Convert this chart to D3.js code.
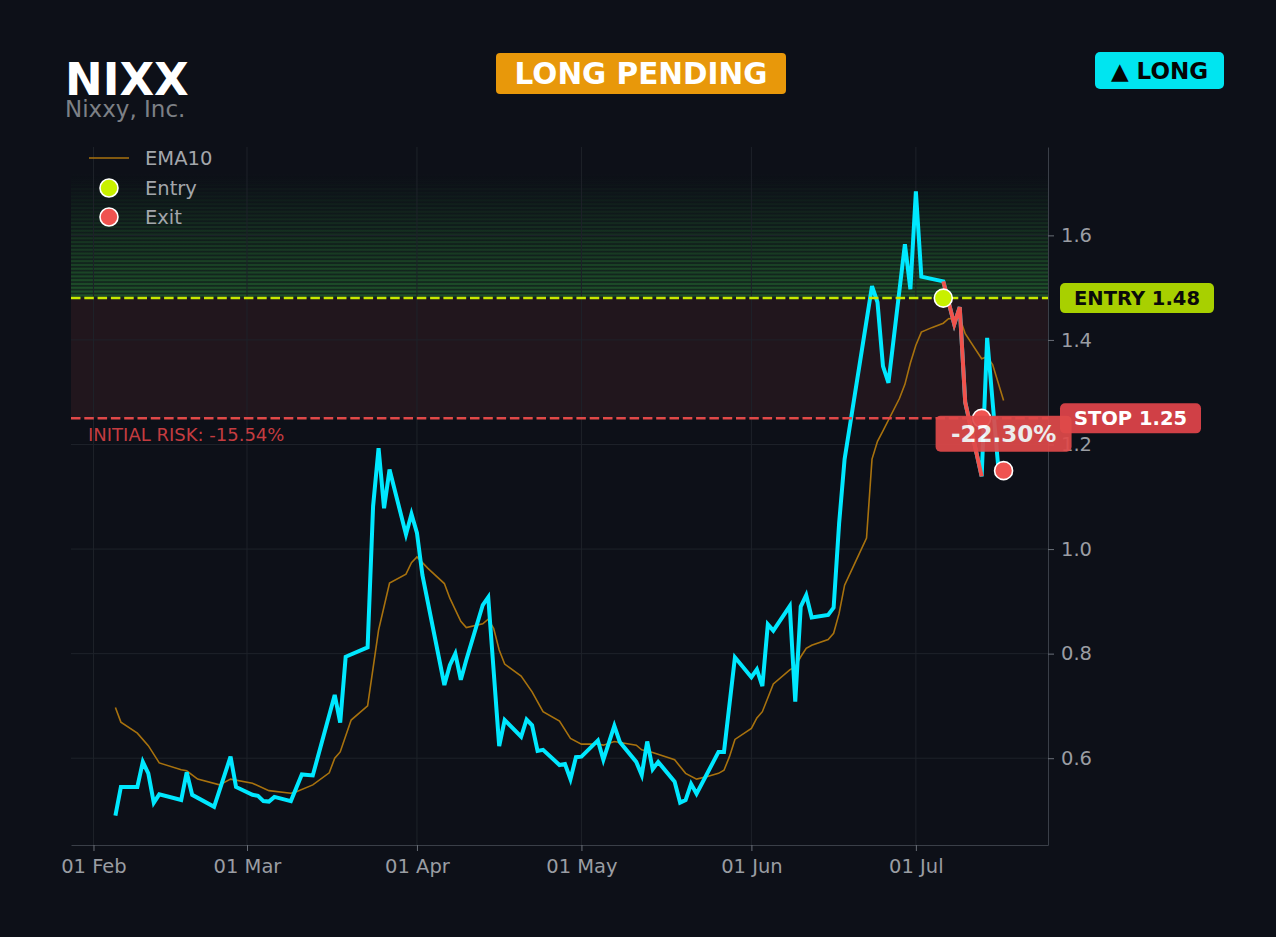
<!DOCTYPE html>
<html><head><meta charset="utf-8">
<script src="https://cdn.jsdelivr.net/npm/d3@7"></script>
<style>
html,body{margin:0;padding:0;background:#0d1018;}
svg{display:block;font-family:"DejaVu Sans",sans-serif;}
</style></head><body>
<svg id="c" width="1276" height="937"></svg>
<script>
// ---------- data ----------
const ticker = "NIXX";
const company = "Nixxy, Inc.";
const statusLabel = "LONG PENDING";
const sideLabel = "\u25B2 LONG";

const priceDates = ["2025-02-05","2025-02-06","2025-02-09","2025-02-10","2025-02-11","2025-02-12","2025-02-13","2025-02-17","2025-02-18","2025-02-19","2025-02-23","2025-02-26","2025-02-27","2025-03-02","2025-03-03","2025-03-04","2025-03-05","2025-03-06","2025-03-09","2025-03-11","2025-03-13","2025-03-17","2025-03-18","2025-03-19","2025-03-23","2025-03-24","2025-03-25","2025-03-26","2025-03-27","2025-03-30","2025-03-31","2025-04-01","2025-04-02","2025-04-06","2025-04-07","2025-04-08","2025-04-09","2025-04-10","2025-04-13","2025-04-14","2025-04-16","2025-04-17","2025-04-20","2025-04-21","2025-04-22","2025-04-23","2025-04-24","2025-04-27","2025-04-28","2025-04-29","2025-04-30","2025-05-01","2025-05-04","2025-05-05","2025-05-07","2025-05-08","2025-05-11","2025-05-12","2025-05-13","2025-05-14","2025-05-15","2025-05-18","2025-05-19","2025-05-20","2025-05-21","2025-05-22","2025-05-26","2025-05-27","2025-05-29","2025-06-01","2025-06-02","2025-06-03","2025-06-04","2025-06-05","2025-06-08","2025-06-09","2025-06-10","2025-06-11","2025-06-12","2025-06-15","2025-06-16","2025-06-17","2025-06-18","2025-06-23","2025-06-24","2025-06-25","2025-06-26","2025-06-29","2025-06-30","2025-07-01","2025-07-02","2025-07-06","2025-07-08","2025-07-09","2025-07-10","2025-07-13","2025-07-14","2025-07-15","2025-07-16","2025-07-17"];
const priceClose = [0.49,0.545,0.545,0.593,0.571,0.515,0.531,0.52,0.573,0.53,0.507,0.603,0.545,0.53,0.528,0.518,0.517,0.526,0.518,0.569,0.567,0.721,0.668,0.794,0.812,1.082,1.193,1.078,1.152,1.028,1.067,1.031,0.95,0.74,0.778,0.80,0.75,0.788,0.893,0.908,0.623,0.673,0.641,0.674,0.663,0.614,0.616,0.587,0.589,0.56,0.602,0.603,0.634,0.597,0.662,0.631,0.593,0.568,0.632,0.579,0.593,0.555,0.515,0.52,0.551,0.532,0.612,0.612,0.793,0.755,0.77,0.738,0.856,0.844,0.891,0.708,0.89,0.912,0.869,0.874,0.888,1.049,1.172,1.503,1.472,1.35,1.318,1.583,1.497,1.684,1.521,1.512,1.43,1.463,1.281,1.139,1.404,1.281,1.16,1.15];

const emaDates = ["2025-02-05","2025-02-06","2025-02-09","2025-02-11","2025-02-13","2025-02-17","2025-02-18","2025-02-20","2025-02-24","2025-02-26","2025-03-02","2025-03-05","2025-03-09","2025-03-10","2025-03-13","2025-03-16","2025-03-17","2025-03-18","2025-03-20","2025-03-23","2025-03-25","2025-03-27","2025-03-30","2025-03-31","2025-04-01","2025-04-03","2025-04-06","2025-04-07","2025-04-09","2025-04-10","2025-04-13","2025-04-14","2025-04-15","2025-04-16","2025-04-17","2025-04-20","2025-04-22","2025-04-24","2025-04-27","2025-04-29","2025-05-01","2025-05-04","2025-05-05","2025-05-07","2025-05-11","2025-05-12","2025-05-14","2025-05-18","2025-05-20","2025-05-22","2025-05-24","2025-05-26","2025-05-27","2025-05-28","2025-05-29","2025-06-01","2025-06-02","2025-06-03","2025-06-05","2025-06-08","2025-06-09","2025-06-10","2025-06-11","2025-06-12","2025-06-15","2025-06-16","2025-06-17","2025-06-18","2025-06-20","2025-06-22","2025-06-23","2025-06-24","2025-06-25","2025-06-28","2025-06-29","2025-06-30","2025-07-01","2025-07-02","2025-07-04","2025-07-06","2025-07-07","2025-07-08","2025-07-09","2025-07-10","2025-07-13","2025-07-14","2025-07-15","2025-07-17"];
const emaValues = [0.697,0.669,0.648,0.624,0.591,0.578,0.576,0.56,0.549,0.56,0.552,0.538,0.533,0.536,0.549,0.572,0.60,0.612,0.673,0.70,0.845,0.935,0.952,0.974,0.985,0.963,0.934,0.906,0.862,0.85,0.857,0.866,0.848,0.807,0.78,0.757,0.727,0.689,0.671,0.638,0.627,0.627,0.625,0.632,0.625,0.616,0.611,0.597,0.571,0.56,0.565,0.571,0.577,0.603,0.636,0.657,0.677,0.689,0.742,0.769,0.775,0.794,0.81,0.816,0.827,0.839,0.877,0.931,0.976,1.021,1.172,1.206,1.226,1.288,1.315,1.356,1.39,1.415,1.424,1.432,1.441,1.439,1.443,1.412,1.364,1.368,1.353,1.284];

const entryDate = "2025-07-06";
const entryPrice = 1.48;
const stopPrice = 1.25;
const exitDate = "2025-07-13";
const exitPrice = 1.25;
const lastDate = "2025-07-17";
const lastPrice = 1.15;
const initialRiskPct = -15.54;
const returnPct = -22.30;
const yTickValues = [0.6, 0.8, 1.0, 1.2, 1.4, 1.6];
const yDomain = [0.434, 1.769];
const greenTop = 1.72;
const legendLabels = ["EMA10", "Entry", "Exit"];

// ---------- setup ----------
const W = 1276, H = 937;
const m = {l: 71, t: 147, r: 228, b: 92};
const iw = W - m.l - m.r, ih = H - m.t - m.b;
const parse = d3.timeParse("%Y-%m-%d");
const price = priceDates.map((d, i) => ({date: parse(d), v: priceClose[i]}));
const ema = emaDates.map((d, i) => ({date: parse(d), v: emaValues[i]}));
const eD = parse(entryDate), xD = parse(exitDate), lD = parse(lastDate);

const ext = d3.extent(price, d => d.date);
const pad = (ext[1] - ext[0]) * 0.05;
const x = d3.scaleTime().domain([new Date(+ext[0] - pad), new Date(+ext[1] + pad)]).range([0, iw]);
const y = d3.scaleLinear().domain(yDomain).range([ih, 0]);

const svg = d3.select("#c");
svg.append("rect").attr("width", W).attr("height", H).attr("fill", "#0d1018");
const g = svg.append("g").attr("transform", `translate(${m.l},${m.t})`);

// risk zone
g.append("rect").attr("x", 0).attr("width", iw)
  .attr("y", y(entryPrice)).attr("height", y(stopPrice) - y(entryPrice))
  .attr("fill", "#21161d");

// green target zone (striped gradient)
const gTopPx = y(greenTop), gBotPx = y(entryPrice);
const defs = svg.append("defs");
const lg = defs.append("linearGradient").attr("id", "gz").attr("x1", 0).attr("x2", 0).attr("y1", 0).attr("y2", 1);
lg.append("stop").attr("offset", "0%").attr("stop-color", "#2a7a35").attr("stop-opacity", 0);
lg.append("stop").attr("offset", "100%").attr("stop-color", "#2a7a35").attr("stop-opacity", 0.25);
g.append("rect").attr("x", 0).attr("width", iw).attr("y", gTopPx).attr("height", gBotPx - gTopPx).attr("fill", "url(#gz)");
const stripes = d3.range(gBotPx - 3.8, gTopPx, -3.8);
g.append("g").selectAll("rect").data(stripes).join("rect")
  .attr("x", 0).attr("width", iw).attr("y", d => d).attr("height", 2.1)
  .attr("fill", "#2a7a35")
  .attr("opacity", d => 0.5 * Math.pow((d - gTopPx) / (gBotPx - gTopPx), 1.2));

// grid
const xTicks = x.ticks(d3.timeMonth.every(1));
g.append("g").selectAll("line").data(xTicks).join("line")
  .attr("x1", d => x(d)).attr("x2", d => x(d)).attr("y1", 0).attr("y2", ih)
  .attr("stroke", "#1e222a").attr("stroke-width", 1);
g.append("g").selectAll("line").data(yTickValues).join("line")
  .attr("x1", 0).attr("x2", iw).attr("y1", d => y(d)).attr("y2", d => y(d))
  .attr("stroke", "#1e222a").attr("stroke-width", 1);

// axes
const xAxis = g.append("g").attr("transform", `translate(0,${ih})`)
  .call(d3.axisBottom(x).tickValues(xTicks).tickFormat(d3.timeFormat("%d %b")).tickSizeInner(6).tickSizeOuter(0).tickPadding(8));
const yAxis = g.append("g").attr("transform", `translate(${iw},0)`)
  .call(d3.axisRight(y).tickValues(yTickValues).tickFormat(d3.format(".1f")).tickSizeInner(6).tickSizeOuter(0).tickPadding(7));
[xAxis, yAxis].forEach(a => {
  a.select(".domain").attr("stroke", "#3a3f48");
  a.selectAll(".tick line").attr("stroke", "#6a6f78");
  a.selectAll(".tick text").attr("fill", "#9a9da3").attr("font-size", 19.5).attr("font-family", "DejaVu Sans");
});

// lines
const line = d3.line().x(d => x(d.date)).y(d => y(d.v));
g.append("path").datum(ema).attr("d", line).attr("fill", "none")
  .attr("stroke", "#a8720e").attr("stroke-width", 1.6);
g.append("path").datum(price).attr("d", line).attr("fill", "none")
  .attr("stroke", "#00e8ff").attr("stroke-width", 4).attr("stroke-linejoin", "miter");
const trade = price.filter(d => d.date >= eD && d.date <= xD);
g.append("path").datum(trade).attr("d", line).attr("fill", "none")
  .attr("stroke", "#f0524c").attr("stroke-width", 4);

// entry / stop lines
g.append("line").attr("x1", 0).attr("x2", iw).attr("y1", y(entryPrice)).attr("y2", y(entryPrice))
  .attr("stroke", "#c8ea00").attr("stroke-width", 2.5).attr("stroke-dasharray", "9.5,3.8");
g.append("line").attr("x1", 0).attr("x2", iw).attr("y1", y(stopPrice)).attr("y2", y(stopPrice))
  .attr("stroke", "#e04848").attr("stroke-width", 2.5).attr("stroke-dasharray", "9.5,3.8");

g.append("text").attr("x", 17).attr("y", y(stopPrice) + 23)
  .attr("fill", "#c43c40").attr("font-size", 18)
  .text(`INITIAL RISK: ${initialRiskPct.toFixed(2)}%`);

// markers
g.append("circle").attr("cx", x(eD)).attr("cy", y(entryPrice)).attr("r", 9)
  .attr("fill", "#c8f000").attr("stroke", "#fff").attr("stroke-width", 1.6);
g.append("circle").attr("cx", x(xD)).attr("cy", y(exitPrice)).attr("r", 9)
  .attr("fill", "#ef5350").attr("stroke", "#fff").attr("stroke-width", 1.6);
g.append("circle").attr("cx", x(lD)).attr("cy", y(lastPrice)).attr("r", 9)
  .attr("fill", "#ef5350").attr("stroke", "#fff").attr("stroke-width", 1.6);

// right badges
function badge(parent, cx0, cy, w, h, fill, txt, color, fs) {
  const gg = parent.append("g");
  gg.append("rect").attr("x", cx0).attr("y", cy - h / 2).attr("width", w).attr("height", h)
    .attr("rx", 5).attr("fill", fill);
  gg.append("text").attr("x", cx0 + w / 2).attr("y", cy).attr("dy", "0.36em")
    .attr("text-anchor", "middle").attr("fill", color).attr("font-size", fs).attr("font-weight", "bold")
    .text(txt);
  return gg;
}
badge(g, iw + 12, y(entryPrice), 154, 30, "#a8d000", `ENTRY ${entryPrice.toFixed(2)}`, "#0a0a0a", 19.5);
badge(g, iw + 12, y(stopPrice), 141, 30, "#d04046", `STOP ${stopPrice.toFixed(2)}`, "#ffffff", 19.5);

// return box
const pb = g.append("g").attr("opacity", 0.92);
pb.append("rect").attr("x", x(lD) - 68).attr("y", y(lastPrice) - 55).attr("width", 136).attr("height", 36)
  .attr("rx", 5).attr("fill", "#e04a4a");
pb.append("text").attr("x", x(lD)).attr("y", y(lastPrice) - 37).attr("dy", "0.36em")
  .attr("text-anchor", "middle").attr("fill", "#fff").attr("font-size", 23).attr("font-weight", "bold")
  .text(`${returnPct.toFixed(2)}%`);

// legend
const lgd = g.append("g");
lgd.append("line").attr("x1", 18).attr("x2", 58).attr("y1", 11).attr("y2", 11)
  .attr("stroke", "#a8720e").attr("stroke-width", 1.6);
lgd.append("circle").attr("cx", 38).attr("cy", 41).attr("r", 9)
  .attr("fill", "#c8f000").attr("stroke", "#fff").attr("stroke-width", 1.6);
lgd.append("circle").attr("cx", 38).attr("cy", 70).attr("r", 9)
  .attr("fill", "#ef5350").attr("stroke", "#fff").attr("stroke-width", 1.6);
lgd.selectAll("text").data(legendLabels).join("text")
  .attr("x", 74).attr("y", (d, i) => 11 + i * 29.5).attr("dy", "0.36em")
  .attr("fill", "#a3a6ab").attr("font-size", 19.5).text(d => d);

// header
svg.append("text").attr("x", 65).attr("y", 95).attr("fill", "#ffffff")
  .attr("font-size", 45).attr("font-weight", "bold").text(ticker);
svg.append("text").attr("x", 65).attr("y", 117).attr("fill", "#7d8086")
  .attr("font-size", 23).text(company);

svg.append("rect").attr("x", 496).attr("y", 53).attr("width", 290).attr("height", 41).attr("rx", 4).attr("fill", "#e8980a");
svg.append("text").attr("x", 641).attr("y", 73.5).attr("dy", "0.36em").attr("text-anchor", "middle")
  .attr("fill", "#fff").attr("font-size", 29.5).attr("font-weight", "bold").text(statusLabel);

svg.append("rect").attr("x", 1095).attr("y", 52).attr("width", 129).attr("height", 37).attr("rx", 5).attr("fill", "#00e5f0");
svg.append("text").attr("x", 1159.5).attr("y", 70.5).attr("dy", "0.36em").attr("text-anchor", "middle")
  .attr("fill", "#050505").attr("font-size", 23).attr("font-weight", "bold").text(sideLabel);
</script>
</body></html>
